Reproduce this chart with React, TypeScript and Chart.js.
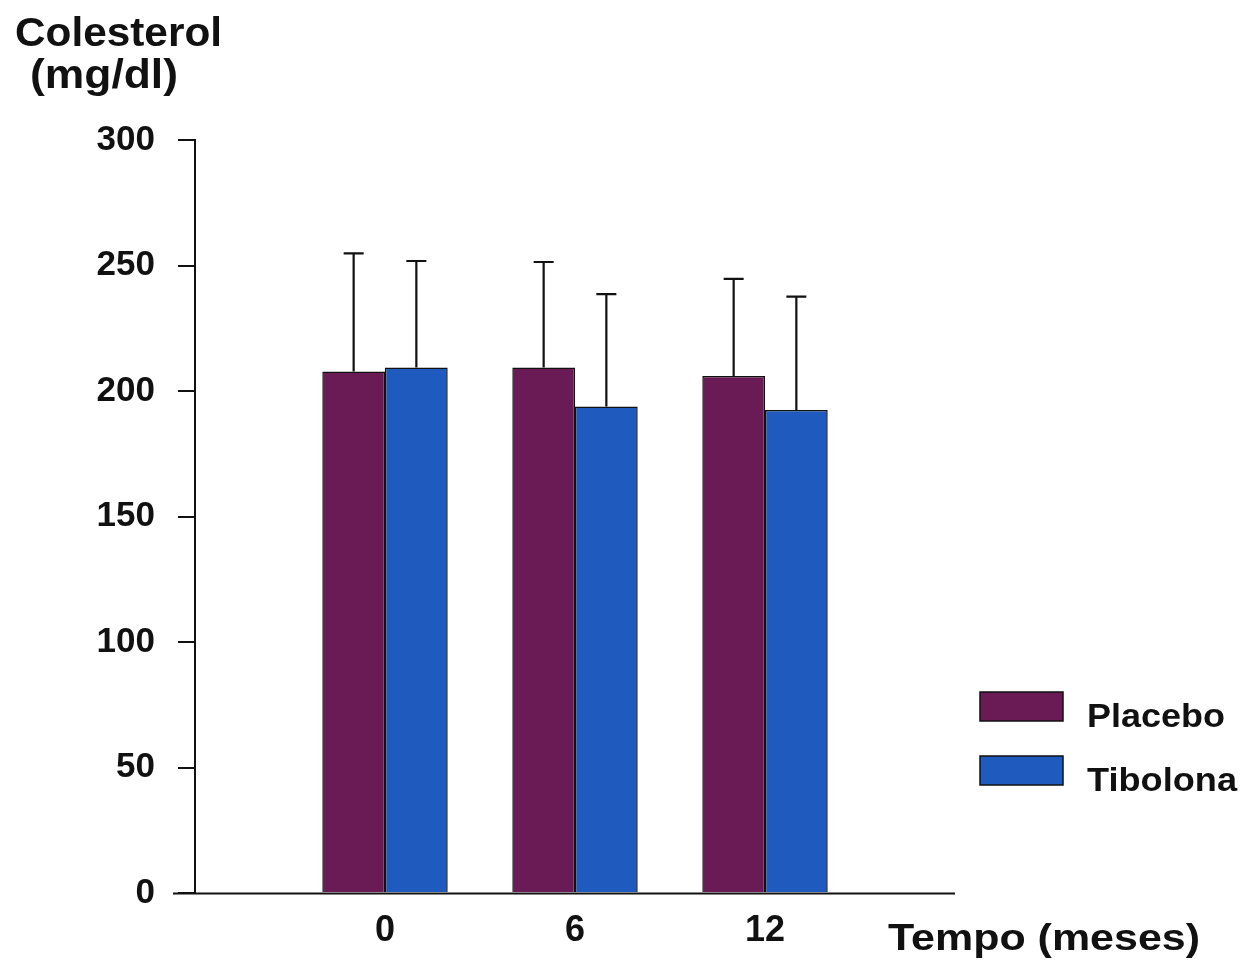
import React, { useEffect, useRef } from "react";
import { Chart, registerables } from "chart.js";

Chart.register(...registerables);

// Months of follow-up (blank slots pad the axis on both sides)
const CATEGORIES = ["", "0", "6", "12", ""];
// Mean total cholesterol (mg/dl)
const PLACEBO = [null, 207.8, 209.4, 206.0, null];
const TIBOLONA = [null, 209.4, 193.8, 192.4, null];
// Upper end of the error bars (mean + SD)
const PLACEBO_UPPER = [null, 254.8, 251.4, 244.7, null];
const TIBOLONA_UPPER = [null, 251.8, 238.6, 237.6, null];

const SERIES_NAMES = ["Placebo", "Tibolona"];
const SERIES_COLORS = ["#6A1A55", "#1F5BBF"];

const Y_TITLE_LINES = ["Colesterol", "(mg/dl)"];
const X_TITLE = "Tempo (meses)";

const FONT = "'Liberation Sans', Arial, Helvetica, sans-serif";

// Draws bold text squeezed/stretched horizontally to a given width
function fittedText(
  ctx: CanvasRenderingContext2D,
  text: string,
  x: number,
  y: number,
  size: number,
  width: number,
  align: CanvasTextAlign
) {
  ctx.save();
  ctx.font = `bold ${size}px ${FONT}`;
  const sx = width / ctx.measureText(text).width;
  ctx.textAlign = align;
  ctx.textBaseline = "alphabetic";
  ctx.fillStyle = "#111";
  ctx.translate(x, y);
  ctx.scale(sx, 1);
  ctx.fillText(text, 0, 0);
  ctx.restore();
}

const errorBars = {
  id: "errorBars",
  afterDatasetsDraw(chart: any) {
    const ctx = chart.ctx as CanvasRenderingContext2D;
    const yScale = chart.scales.y;
    const uppers = [PLACEBO_UPPER, TIBOLONA_UPPER];
    ctx.save();
    ctx.strokeStyle = "#111";
    ctx.lineWidth = 2.2;
    chart.data.datasets.forEach((_ds: any, di: number) => {
      const meta = chart.getDatasetMeta(di);
      meta.data.forEach((el: any, i: number) => {
        const up = uppers[di][i];
        if (up == null) return;
        const yTop = yScale.getPixelForValue(up);
        ctx.beginPath();
        ctx.moveTo(el.x, el.y);
        ctx.lineTo(el.x, yTop);
        ctx.moveTo(el.x - 10, yTop);
        ctx.lineTo(el.x + 10, yTop);
        ctx.stroke();
      });
    });
    ctx.restore();
  },
};

const decorations = {
  id: "decorations",
  afterDraw(chart: any) {
    const ctx = chart.ctx as CanvasRenderingContext2D;
    const area = chart.chartArea;

    // x axis baseline, running a little past the y axis on the left
    ctx.save();
    ctx.strokeStyle = "#111";
    ctx.lineWidth = 2;
    ctx.beginPath();
    ctx.moveTo(area.left - 22, area.bottom + 0.5);
    ctx.lineTo(area.right, area.bottom + 0.5);
    ctx.stroke();
    ctx.restore();

    // y axis title (two lines, top-left)
    fittedText(ctx, Y_TITLE_LINES[0], 15, 46, 40, 207, "left");
    fittedText(ctx, Y_TITLE_LINES[1], 30, 88, 40, 148, "left");

    // x axis title (bottom-right)
    fittedText(ctx, X_TITLE, 888, 950, 36, 312, "left");

    // legend
    const boxTops = [692, 756];
    const labelWidths = [138, 150];
    chart.data.datasets.forEach((ds: any, i: number) => {
      ctx.save();
      ctx.fillStyle = ds.backgroundColor;
      ctx.fillRect(980, boxTops[i], 83, 29);
      ctx.strokeStyle = "#111";
      ctx.lineWidth = 1.5;
      ctx.strokeRect(980, boxTops[i], 83, 29);
      ctx.restore();
      fittedText(ctx, ds.label, 1087, boxTops[i] + 35, 33, labelWidths[i], "left");
    });
  },
};

export default function App() {
  const canvasRef = useRef<HTMLCanvasElement | null>(null);

  useEffect(() => {
    if (!canvasRef.current) return;
    const chart = new Chart(canvasRef.current, {
      type: "bar",
      data: {
        labels: CATEGORIES,
        datasets: [
          {
            label: SERIES_NAMES[0],
            data: PLACEBO,
            backgroundColor: SERIES_COLORS[0],
            borderColor: "#111",
            borderWidth: 1.5,
          },
          {
            label: SERIES_NAMES[1],
            data: TIBOLONA,
            backgroundColor: SERIES_COLORS[1],
            borderColor: "#111",
            borderWidth: 1.5,
          },
        ],
      },
      options: {
        responsive: false,
        animation: false,
        layout: { padding: { top: 140, right: 287, left: 0, bottom: 0 } },
        datasets: { bar: { categoryPercentage: 0.66, barPercentage: 1.0 } },
        plugins: {
          legend: { display: false },
          tooltip: { enabled: false },
          title: { display: false },
        },
        scales: {
          x: {
            offset: false,
            grid: { display: false, drawTicks: false },
            border: { display: false },
            ticks: {
              color: "#111",
              font: { family: FONT, size: 36, weight: "bold" },
              padding: 16,
              maxRotation: 0,
              autoSkip: false,
            },
            afterFit(scale: any) {
              scale.height = 78;
            },
          },
          y: {
            min: 0,
            max: 300,
            grid: {
              drawOnChartArea: false,
              drawTicks: true,
              tickLength: 17,
              color: "#111",
              lineWidth: 2,
            },
            border: { display: true, color: "#111", width: 2 },
            ticks: {
              stepSize: 50,
              color: "#111",
              font: { family: FONT, size: 35, weight: "bold" },
              padding: 23,
            },
            afterFit(scale: any) {
              scale.width = 195;
            },
          },
        },
      },
      plugins: [errorBars, decorations],
    });
    return () => chart.destroy();
  }, []);

  return (
    <div style={{ position: "fixed", left: 0, top: 0, width: 1242, height: 971, background: "#fff" }}>
      <canvas ref={canvasRef} width={1242} height={971} style={{ display: "block" }} />
    </div>
  );
}
